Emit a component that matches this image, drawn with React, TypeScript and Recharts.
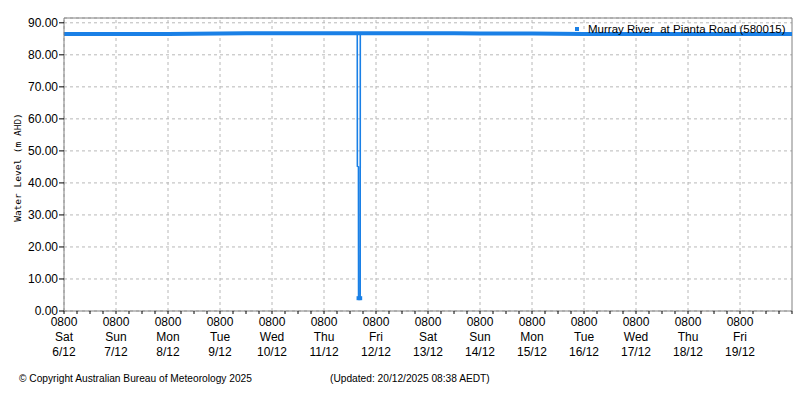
import React from 'react';
import {
  LineChart,
  Line,
  XAxis,
  YAxis,
  CartesianGrid,
  ReferenceLine,
  Legend,
  Label,
} from 'recharts';

// Hours since 0800 Sat 6/12
const bandHours = [0, 12, 24, 36, 48, 60, 72, 84, 96, 108, 120, 132, 144, 156, 168, 180, 192, 204, 216, 228, 240, 252, 264, 276, 288, 300, 312, 324, 336];
const bandLevels = [86.5, 86.5, 86.5, 86.5, 86.5, 86.55, 86.65, 86.7, 86.7, 86.7, 86.7, 86.7, 86.7, 86.7, 86.7, 86.7, 86.65, 86.65, 86.65, 86.55, 86.5, 86.5, 86.5, 86.5, 86.5, 86.5, 86.5, 86.5, 86.5];

const dipHours = [130, 135.35, 135.4, 135.9, 135.95, 136.7, 136.75, 142];
const dipLevels = [86.7, 86.7, 45.2, 45.0, 4.0, 4.0, 86.7, 86.7];

const dayNames = ['Sat', 'Sun', 'Mon', 'Tue', 'Wed', 'Thu', 'Fri', 'Sat', 'Sun', 'Mon', 'Tue', 'Wed', 'Thu', 'Fri'];
const dayDates = ['6/12', '7/12', '8/12', '9/12', '10/12', '11/12', '12/12', '13/12', '14/12', '15/12', '16/12', '17/12', '18/12', '19/12'];
const dayStarts = [0, 24, 48, 72, 96, 120, 144, 168, 192, 216, 240, 264, 288, 312];
const xTicks = [0, 6, 12, 18, 24, 30, 36, 42, 48, 54, 60, 66, 72, 78, 84, 90, 96, 102, 108, 114, 120, 126, 132, 138, 144, 150, 156, 162, 168, 174, 180, 186, 192, 198, 204, 210, 216, 222, 228, 234, 240, 246, 252, 258, 264, 270, 276, 282, 288, 294, 300, 306, 312, 318, 324, 330, 336];
const yTicks = [0, 10, 20, 30, 40, 50, 60, 70, 80, 90];

const seriesName = 'Murray River  at Pianta Road (580015)';
const LINE = '#1a80e6';
const FONT = '"Liberation Sans", Arial, sans-serif';

const bandData = bandHours.map((t, i) => ({ t, v: bandLevels[i] }));
const dipData = dipHours.map((t, i) => ({ t, v: dipLevels[i] }));

const XTick = (props: any) => {
  const { x, y, payload } = props;
  const idx = dayStarts.indexOf(payload.value);
  if (idx < 0) return null;
  return (
    <text x={x} y={y} textAnchor="middle" fill="#000" fontSize={12} fontFamily={FONT}>
      <tspan x={x} dy={10}>0800</tspan>
      <tspan x={x} dy={15}>{dayNames[idx]}</tspan>
      <tspan x={x} dy={15}>{dayDates[idx]}</tspan>
    </text>
  );
};

const DipDot = (props: any) => {
  const { cx, cy, payload } = props;
  if (payload.v > 10) return null;
  return <rect x={cx - 2} y={cy - 2} width={4} height={4} fill={LINE} />;
};

const LegendContent = () => (
  <div style={{ display: 'flex', alignItems: 'center', fontFamily: FONT, fontSize: 11.5, color: '#000' }}>
    <span style={{ display: 'inline-block', width: 4, height: 4, background: LINE, marginRight: 9 }} />
    <span style={{ whiteSpace: 'pre' }}>{seriesName}</span>
  </div>
);

export default function App() {
  return (
    <div style={{ position: 'absolute', left: 0, top: 0, width: 800, height: 400, background: '#fff' }}>
      <LineChart width={800} height={400} margin={{ top: 18, right: 8, bottom: 39, left: 0 }}>
        <CartesianGrid vertical={false} stroke="#b8b8b8" strokeDasharray="3 3" />
        {dayStarts.map((d) => (
          <ReferenceLine key={d} x={d} stroke="#b8b8b8" strokeDasharray="3 3" />
        ))}
        <ReferenceLine y={91.5} stroke="#808080" />
        <ReferenceLine x={336} stroke="#808080" />
        <XAxis
          type="number"
          dataKey="t"
          domain={[0, 336]}
          ticks={xTicks}
          interval={0}
          height={50}
          tickSize={3}
          tickMargin={2}
          tickLine={{ stroke: '#000' }}
          axisLine={{ stroke: '#808080' }}
          tick={<XTick />}
          allowDataOverflow
        />
        <YAxis
          type="number"
          domain={[0, 91.5]}
          ticks={yTicks}
          interval={0}
          width={64}
          tickSize={5}
          tickMargin={1}
          tickLine={{ stroke: '#000' }}
          axisLine={{ stroke: '#808080' }}
          tickFormatter={(v: number) => v.toFixed(2)}
          tick={{ fill: '#000', fontSize: 12, fontFamily: FONT }}
          allowDataOverflow
        >
          <Label
            content={(p: any) => {
              const vb = p.viewBox || {};
              const cy = (vb.y ?? 18) + (vb.height ?? 293) / 2 + 3;
              return (
                <text
                  x={21}
                  y={cy}
                  transform={`rotate(-90 21 ${cy})`}
                  textAnchor="middle"
                  fontFamily='"DejaVu Sans Mono", monospace'
                  fontSize={9.5}
                  fill="#000"
                >
                  Water Level (m AHD)
                </text>
              );
            }}
          />
        </YAxis>
        <Line
          data={dipData}
          dataKey="v"
          type="linear"
          stroke={LINE}
          strokeWidth={1.6}
          dot={<DipDot />}
          isAnimationActive={false}
          legendType="none"
        />
        <Line
          data={bandData}
          dataKey="v"
          name={seriesName}
          type="linear"
          stroke={LINE}
          strokeWidth={4}
          dot={false}
          isAnimationActive={false}
        />
        <Legend
          layout="horizontal"
          verticalAlign="middle"
          align="center"
          content={<LegendContent />}
          wrapperStyle={{ position: 'absolute', left: 575, top: 23, width: 'auto', height: 'auto' }}
        />
      </LineChart>
      <div style={{ position: 'absolute', left: 19, top: 373, fontFamily: FONT, fontSize: 10.2, color: '#000', whiteSpace: 'pre' }}>
        © Copyright Australian Bureau of Meteorology 2025
      </div>
      <div style={{ position: 'absolute', left: 330, top: 373, fontFamily: FONT, fontSize: 10.2, color: '#000', whiteSpace: 'pre' }}>
        (Updated: 20/12/2025 08:38 AEDT)
      </div>
    </div>
  );
}
